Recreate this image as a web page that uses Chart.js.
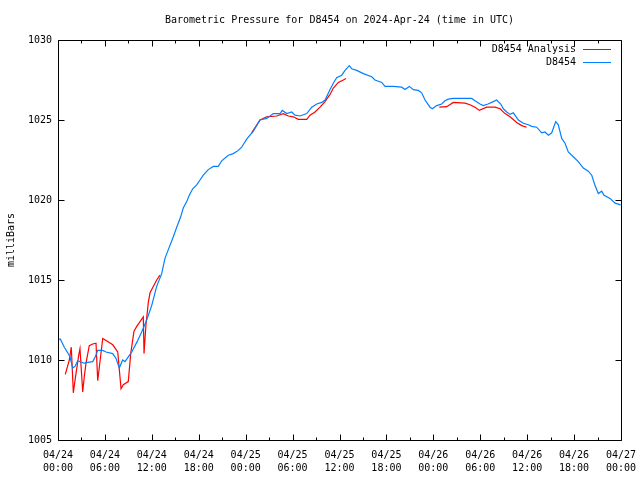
<!DOCTYPE html>
<html>
<head>
<meta charset="utf-8">
<script src="https://cdn.jsdelivr.net/npm/chart.js@4.4.1/dist/chart.umd.min.js"></script>
<style>
  html, body { margin: 0; padding: 0; background: #fff; }
  #wrap { width: 640px; height: 480px; }
</style>
</head>
<body>
<div id="wrap"><canvas id="c" width="640" height="480"></canvas></div>
<script>
// ---- data (hours since 2024-04-24 00:00 UTC) ----
const stationTimes = [0.0,0.3,0.81,1.24,1.53,1.88,2.17,2.52,2.81,3.36,3.80,4.44,4.77,5.08,5.72,6.14,7.00,7.42,7.84,8.27,8.57,8.99,9.43,10.07,10.70,11.34,11.98,12.62,13.26,13.68,14.11,14.75,15.18,15.69,16.02,16.46,16.79,17.23,17.74,18.16,18.58,19.22,19.86,20.50,20.94,21.78,22.42,23.06,23.49,24.13,24.98,25.83,26.69,27.53,28.39,28.69,29.25,29.89,30.31,30.95,31.81,32.45,33.09,33.73,34.15,34.79,35.21,35.64,36.28,36.71,37.26,37.56,38.20,39.05,40.12,40.54,41.40,41.82,42.88,43.96,44.38,44.93,45.44,46.08,46.51,46.94,47.58,47.87,48.43,49.07,49.49,49.92,50.56,51.41,52.91,53.33,53.97,54.39,54.99,55.67,56.10,56.62,56.95,57.39,57.81,58.23,58.87,59.51,60.15,60.58,61.22,61.86,62.28,62.71,63.14,63.65,63.98,64.42,64.84,65.26,65.90,66.54,67.18,67.82,68.26,68.68,69.10,69.53,69.83,70.60,71.24,71.96];
const stationPressure = [1011.3,1011.3,1010.8,1010.45,1010.2,1009.5,1009.6,1009.95,1009.9,1009.8,1009.85,1009.9,1010.2,1010.6,1010.6,1010.5,1010.4,1010.1,1009.5,1010.0,1009.9,1010.2,1010.5,1011.1,1011.75,1012.5,1013.4,1014.6,1015.4,1016.35,1016.9,1017.7,1018.3,1018.95,1019.5,1019.9,1020.3,1020.7,1020.95,1021.25,1021.55,1021.9,1022.1,1022.1,1022.45,1022.8,1022.9,1023.1,1023.3,1023.8,1024.3,1025.0,1025.1,1025.4,1025.4,1025.6,1025.4,1025.5,1025.3,1025.25,1025.4,1025.8,1026.0,1026.1,1026.25,1026.9,1027.3,1027.65,1027.8,1028.1,1028.4,1028.2,1028.1,1027.9,1027.7,1027.5,1027.35,1027.1,1027.1,1027.05,1026.9,1027.1,1026.9,1026.85,1026.7,1026.25,1025.8,1025.7,1025.9,1026.0,1026.2,1026.3,1026.35,1026.35,1026.35,1026.2,1026.0,1025.9,1026.0,1026.15,1026.25,1026.0,1025.7,1025.5,1025.35,1025.45,1025.0,1024.8,1024.7,1024.6,1024.55,1024.2,1024.25,1024.05,1024.2,1024.9,1024.7,1023.85,1023.55,1023.0,1022.7,1022.4,1022.0,1021.8,1021.55,1020.9,1020.4,1020.55,1020.3,1020.1,1019.8,1019.7];

const analysisTimes = [0.93,1.45,1.7,1.96,2.21,2.65,2.81,3.16,3.36,3.58,4.00,4.44,4.86,5.08,5.72,6.36,7.00,7.64,8.06,8.35,8.99,9.30,9.72,10.07,10.49,10.91,11.00,11.25,11.55,11.77,12.62,13.04,18.5,24.77,25.83,26.69,27.97,28.81,29.45,30.09,30.73,31.81,32.23,32.87,33.51,34.15,34.79,35.21,35.85,36.49,36.83,42.0,48.76,49.71,50.56,52.05,52.69,53.33,53.88,54.82,55.89,56.53,57.17,57.81,58.66,59.30,59.94];
const analysisPressure = [1009.1,1010.0,1010.8,1007.95,1008.85,1010.3,1010.7,1008.0,1008.95,1009.8,1010.9,1011.0,1011.05,1008.7,1011.35,1011.15,1010.95,1010.5,1008.2,1008.45,1008.65,1010.4,1011.8,1012.1,1012.4,1012.7,1010.4,1012.2,1013.6,1014.2,1015.0,1015.3,null,1024.2,1025.0,1025.2,1025.25,1025.4,1025.25,1025.2,1025.04,1025.04,1025.3,1025.5,1025.8,1026.15,1026.6,1027.0,1027.35,1027.5,1027.6,null,1025.8,1025.83,1026.1,1026.05,1025.95,1025.8,1025.6,1025.8,1025.8,1025.7,1025.4,1025.2,1024.85,1024.65,1024.55];

const tickLabels = [
  ["04/24","00:00"],["04/24","06:00"],["04/24","12:00"],["04/24","18:00"],
  ["04/25","00:00"],["04/25","06:00"],["04/25","12:00"],["04/25","18:00"],
  ["04/26","00:00"],["04/26","06:00"],["04/26","12:00"],["04/26","18:00"],
  ["04/27","00:00"]
];
const seriesNames = ["D8454 Analysis", "D8454"];
const titleText = "Barometric Pressure for D8454 on 2024-Apr-24 (time in UTC)";
const yTitle = "milliBars";

const RED = "#ff0000";
const BLUE = "#0080ff";
const FONT = "'DejaVu Sans Mono', 'Liberation Mono', monospace";

function pairs(xs, ys) { return xs.map((t, i) => ({ x: t, y: ys[i] })); }

Chart.defaults.font.family = FONT;
Chart.defaults.font.size = 10;
Chart.defaults.color = "#000";

const framePlugin = {
  id: "frame",
  afterDatasetsDraw(chart) {
    const { ctx, chartArea: a, scales: { x, y } } = chart;
    ctx.save();
    ctx.strokeStyle = "#000";
    ctx.lineWidth = 1;
    const L = Math.round(a.left) + 0.5, R = Math.round(a.right) + 0.5;
    const T = Math.round(a.top) + 0.5, B = Math.round(a.bottom) + 0.5;
    ctx.beginPath();
    ctx.rect(L, T, R - L, B - T);
    for (let h = 0; h <= 72; h += 3) {
      const px = Math.round(x.getPixelForValue(h)) + 0.5;
      const len = h % 6 === 0 ? 6 : 3;
      ctx.moveTo(px, B); ctx.lineTo(px, B - len);
      ctx.moveTo(px, T); ctx.lineTo(px, T + len);
    }
    for (let v = 1005; v <= 1030; v += 5) {
      const py = Math.round(y.getPixelForValue(v)) + 0.5;
      ctx.moveTo(L, py); ctx.lineTo(L + 6, py);
      ctx.moveTo(R, py); ctx.lineTo(R - 6, py);
    }
    ctx.stroke();
    // key (legend) inside the plot, gnuplot style
    ctx.font = "10px " + FONT;
    ctx.textAlign = "right";
    ctx.textBaseline = "middle";
    ctx.fillStyle = "#000";
    const cols = [RED, BLUE];
    seriesNames.forEach((name, i) => {
      const ly = 49 + i * 13;
      ctx.fillText(name, 576, ly);
      ctx.beginPath();
      ctx.strokeStyle = cols[i];
      ctx.moveTo(583, ly + 0.5);
      ctx.lineTo(611, ly + 0.5);
      ctx.stroke();
    });
    ctx.restore();
  }
};

new Chart(document.getElementById("c"), {
  type: "line",
  data: {
    datasets: [
      {
        label: seriesNames[0],
        data: pairs(analysisTimes, analysisPressure),
        borderColor: RED,
        backgroundColor: RED,
        borderWidth: 1.2,
        pointRadius: 0,
        tension: 0,
        spanGaps: false,
        order: 2
      },
      {
        label: seriesNames[1],
        data: pairs(stationTimes, stationPressure),
        borderColor: BLUE,
        backgroundColor: BLUE,
        borderWidth: 1.2,
        pointRadius: 0,
        tension: 0,
        order: 1
      }
    ]
  },
  plugins: [framePlugin],
  options: {
    responsive: false,
    animation: false,
    events: [],
    layout: { padding: { left: 0, right: 19, top: 0, bottom: 0 } },
    plugins: {
      legend: { display: false },
      tooltip: { enabled: false },
      title: {
        display: true,
        fullSize: false,
        text: titleText,
        font: { size: 10, weight: "normal", family: FONT },
        color: "#000",
        padding: { top: 14, bottom: 14 }
      }
    },
    scales: {
      x: {
        type: "linear",
        min: 0,
        max: 72,
        offset: false,
        grid: { display: false, drawTicks: false },
        border: { display: false },
        ticks: {
          stepSize: 6,
          autoSkip: false,
          maxRotation: 0,
          padding: 9,
          font: { size: 10, family: FONT, lineHeight: 1.3 },
          color: "#000",
          callback: (v) => tickLabels[Math.round(v / 6)]
        },
        afterFit: (s) => { s.height = 40; s.paddingLeft = 0; s.paddingRight = 0; }
      },
      y: {
        type: "linear",
        min: 1005,
        max: 1030,
        grid: { display: false, drawTicks: false },
        border: { display: false },
        ticks: {
          stepSize: 5,
          padding: 6,
          font: { size: 10, family: FONT },
          color: "#000",
          callback: (v) => String(v)
        },
        title: {
          display: true,
          text: yTitle,
          font: { size: 10, family: FONT },
          color: "#000",
          padding: { top: 5, bottom: 0 }
        },
        afterFit: (s) => { s.width = 58; s.paddingTop = 0; s.paddingBottom = 0; }
      }
    }
  }
});
</script>
</body>
</html>
